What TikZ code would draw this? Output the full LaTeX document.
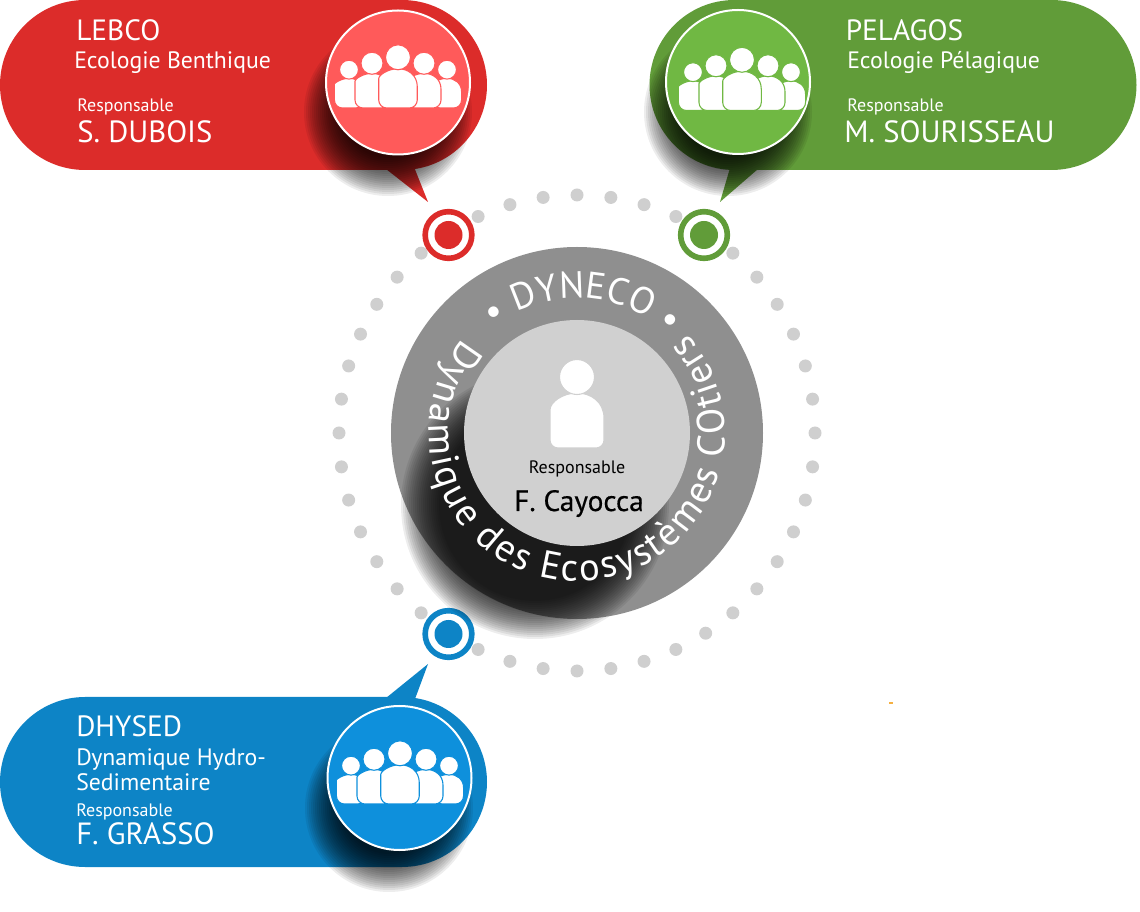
\documentclass[tikz,border=0pt]{standalone}
\usepackage{fontspec}
\setmainfont{PT Sans}
\newfontfamily\heavyfont[FakeBold=0.4]{PT Sans}
\usetikzlibrary{decorations.text}
\definecolor{redpill}{HTML}{DC2C2A}
\definecolor{redbadge}{HTML}{FF5A5A}
\definecolor{greenpill}{HTML}{619C39}
\definecolor{greenbadge}{HTML}{70B843}
\definecolor{bluepill}{HTML}{0D84C6}
\definecolor{bluebadge}{HTML}{0E90DC}
\definecolor{ringgrey}{HTML}{8F8F8F}
\definecolor{coregrey}{HTML}{D0D0D0}
\definecolor{dotgrey}{HTML}{CFCFCF}
\definecolor{sparkle}{HTML}{F5B042}
\tikzset{
	pill/.style={rectangle, minimum width=365.25pt, minimum height=127.5pt, rounded corners=63.75pt, inner sep=0pt, fill=#1},
	badge/.style={circle, minimum size=108pt, inner sep=0pt, fill=#1, draw=white, line width=1.5pt},
	target/.style={circle, minimum size=35pt, inner sep=0pt, fill=white, draw=#1, line width=4.2pt},
	hub/.style={circle, minimum size=21pt, inner sep=0pt, fill=#1},
	lab/.style={anchor=base west, inner sep=0pt, text=white},
	title/.style={lab, font=\fontsize{22}{24}\selectfont},
	subtitle/.style={lab, font=\fontsize{17.8}{19}\selectfont},
	resp/.style={lab, font=\fontsize{13.5}{15}\selectfont},
	chief/.style={lab, font=\fontsize{23}{26}\selectfont},
	pics/person/.style={code={
		\fill[white, draw=#1, line width=.8pt] (-27,0) [rounded corners=6pt] -- (-27,-30) [rounded corners=0pt] .. controls (-27,-46) and (-14,-55) .. (0,-55) .. controls (14,-55) and (27,-46) .. (27,-30) [rounded corners=6pt] -- (27,0) -- cycle;
		\fill[white, draw=#1, line width=.8pt] (0,-71) circle (17.5);
	}},
}
\newcommand{\softdisc}[3]{
	\foreach \r in {0,...,19}
		\fill[black, opacity=.07] (#1,#2) circle [radius=#3-\r*2];
}
\newcommand{\crowd}[3]{
	\pic[scale=.54] at (#1-49,#2) {person=#3};
	\pic[scale=.54] at (#1+49,#2) {person=#3};
	\pic[scale=.63] at (#1-26,#2) {person=#3};
	\pic[scale=.63] at (#1+26,#2) {person=#3};
	\pic[scale=.714] at (#1,#2) {person=#3};
}
\begin{document}
\begin{tikzpicture}[x=.75pt, y=-.75pt]
	\useasboundingbox (0,0) rectangle (1140,912);
	\foreach \a in {0,...,43}
		\fill[dotgrey] ({\a*360/44}:238) ++(577,433) circle (6.5);

	\node[pill=redpill] (lebco) at (243.5,85) {};
	\fill[redpill] (386,169) -- (428,202) -- (414,167) -- cycle;
	\softdisc{388}{112}{84}
	\node[badge=redbadge] (lebcobadge) at (398,82.5) {};
	\crowd{398}{108}{redbadge}

	\node[pill=greenpill] (pelagos) at (893,85) {};
	\fill[greenpill] (730,168) -- (720,202) -- (758,169) -- cycle;
	\softdisc{728}{112}{84}
	\node[badge=greenbadge] (pelagosbadge) at (738,82) {};
	\crowd{742}{110.5}{greenbadge}

	\node[pill=bluepill] (dhysed) at (243.5,782) {};
	\fill[bluepill] (386,698) -- (428,664) -- (415,699) -- cycle;
	\softdisc{389}{808}{84}
	\node[badge=bluebadge] (dhysedbadge) at (399.5,778) {};
	\crowd{400}{804}{bluebadge}

	\node[title] (lebconame) at (76,41) {LEBCO};
	\node[subtitle] (lebcotopic) at (74,69) {Ecologie Benthique};
	\node[resp] (lebcoresp) at (77,111.5) {Responsable};
	\node[chief] (lebcohead) at (77,142.5) {S. DUBOIS};

	\node[title] (pelagosname) at (845.5,41) {PELAGOS};
	\node[subtitle] (pelagostopic) at (847,69) {Ecologie Pélagique};
	\node[resp] (pelagosresp) at (847,111.5) {Responsable};
	\node[chief] (pelagoshead) at (844,142.5) {M. SOURISSEAU};

	\node[title] (dhysedname) at (76,737) {DHYSED};
	\node[subtitle] (dhysedtopic) at (76,766) {Dynamique Hydro-};
	\node[subtitle] (dhysedtopicb) at (76,791) {Sedimentaire};
	\node[resp] (dhysedresp) at (76,816.5) {Responsable};
	\node[chief] (dhysedhead) at (76,844.5) {F. GRASSO};

	\node[target=redpill] (lebcoring) at (448.5,235) {};
	\node[hub=redpill] (lebcohub) at (lebcoring) {};
	\node[target=greenpill] (pelagosring) at (704,235) {};
	\node[hub=greenpill] (pelagoshub) at (pelagosring) {};
	\node[target=bluepill] (dhysedring) at (448.5,634) {};
	\node[hub=bluepill] (dhysedhub) at (dhysedring) {};

	\node[circle, minimum size=279pt, inner sep=0pt, fill=ringgrey] (ring) at (577,433) {};
	\softdisc{535}{505}{134}
	\node[circle, minimum size=169.5pt, inner sep=0pt, fill=coregrey] (core) at (577,433) {};
	\pic at (577,448) {person=coregrey};
	\node[resp, anchor=base, text=black] (coreresp) at (577,474) {Responsable};
	\node[chief, anchor=base, text=black, font=\heavyfont\fontsize{22}{24}\selectfont] (corehead) at (579,511) {F. Cayocca};

	\begin{scope}[shift={(577,433)}, y=.75pt]
		\path[decorate, decoration={text along path, text align=center, text={|\color{white}\fontsize{28}{30}\selectfont|• DYNECO •}}] (135:135) arc (135:40:135);
		\path[decorate, decoration={text along path, text align=center, raise=-12pt, text={|\color{white}\fontsize{29}{31}\selectfont|Dynamique des Ecosystèmes COtiers}}] (120:132) arc (120:422:132);
	\end{scope}

	\fill[sparkle] (889,702) rectangle (893,704);
\end{tikzpicture}
\end{document}
